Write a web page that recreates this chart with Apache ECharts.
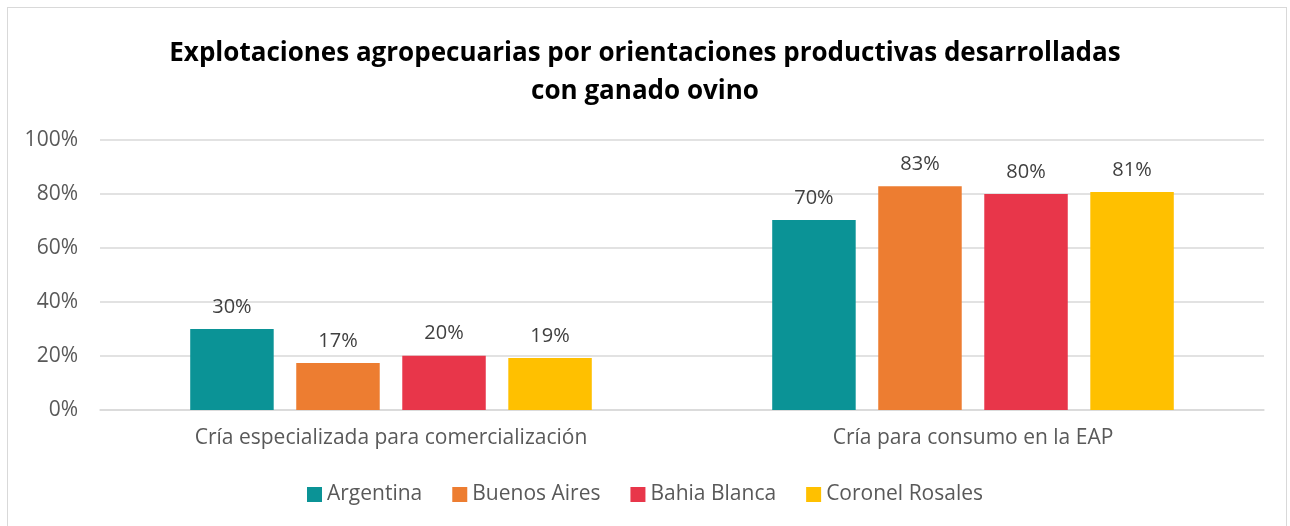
<!DOCTYPE html>
<html>
<head>
<meta charset="utf-8" />
<script src="https://cdn.jsdelivr.net/npm/echarts@6/dist/echarts.min.js"></script>
<style>
  html, body { margin: 0; padding: 0; background: #fff; }
  #frame { position: absolute; left: 7px; top: 7px; width: 1280px; height: 530px; border: 1px solid #d9d9d9; box-sizing: border-box; }
  #chart { width: 1290px; height: 526px; }
</style>
</head>
<body>
<div id="frame"></div>
<div id="chart"></div>
<script>
var categories = ['Cría especializada para comercialización', 'Cría para consumo en la EAP'];
var argentina = [30, 70.4];
var buenosAires = [17.4, 82.9];
var bahiaBlanca = [20.1, 80];
var coronelRosales = [19.3, 80.7];
var colores = ['#0b9396', '#ed7d31', '#e8364a', '#ffc000'];
var nombres = ['Argentina', 'Buenos Aires', 'Bahia Blanca', 'Coronel Rosales'];

var font = '"Open Sans", "Noto Sans", sans-serif';

function serie(nombre, datos, color) {
    return {
        name: nombre,
        type: 'bar',
        data: datos,
        barGap: '27%',
        barCategoryGap: '31%',
        itemStyle: { color: color },
        label: {
            show: true,
            position: 'top',
            distance: 12,
            color: '#404040',
            fontSize: 20,
            fontFamily: font,
            formatter: function (p) { return Math.round(p.value) + '%'; }
        }
    };
}

var chart = echarts.init(document.getElementById('chart'));
chart.setOption({
    animation: false,
    title: {
        text: 'Explotaciones agropecuarias por orientaciones productivas desarrolladas\ncon ganado ovino',
        left: 'center',
        top: 30,
        textStyle: { fontSize: 26, fontWeight: 'bold', color: '#000', fontFamily: font, lineHeight: 38 }
    },
    legend: {
        bottom: 16,
        left: 'center',
        itemWidth: 15,
        itemHeight: 15,
        itemGap: 30,
        icon: 'rect',
        textStyle: { fontSize: 21, color: '#595959', fontFamily: font },
        data: nombres
    },
    grid: { left: 100, right: 26, top: 140, bottom: 116, containLabel: false },
    xAxis: {
        type: 'category',
        data: categories,
        axisLine: { lineStyle: { color: '#d9d9d9', width: 1.5 } },
        axisTick: { show: false },
        axisLabel: { fontSize: 21, color: '#595959', fontFamily: font, margin: 18 }
    },
    yAxis: {
        type: 'value',
        min: 0,
        max: 100,
        interval: 20,
        axisLine: { show: false },
        axisTick: { show: false },
        splitLine: { lineStyle: { color: '#d9d9d9', width: 1.5 } },
        axisLabel: { fontSize: 21, color: '#595959', fontFamily: font, margin: 22, formatter: '{value}%' }
    },
    series: [
        serie(nombres[0], argentina, colores[0]),
        serie(nombres[1], buenosAires, colores[1]),
        serie(nombres[2], bahiaBlanca, colores[2]),
        serie(nombres[3], coronelRosales, colores[3])
    ]
});
</script>
</body>
</html>
